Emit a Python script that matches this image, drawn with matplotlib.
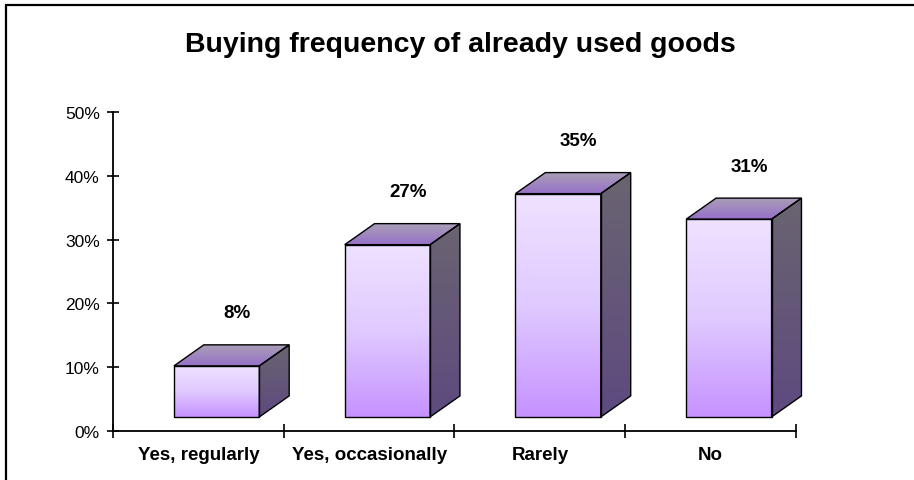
import numpy as np
import matplotlib
matplotlib.use("Agg")
import matplotlib.pyplot as plt
from matplotlib.patches import Polygon, Rectangle
from matplotlib.colors import LinearSegmentedColormap

plt.rcParams["font.family"] = ["Liberation Sans", "DejaVu Sans"]

categories = ["Yes, regularly", "Yes, occasionally", "Rarely", "No"]
shares = [8, 27, 35, 31]
yticks = [0, 10, 20, 30, 40, 50]
title = "Buying frequency of already used goods"

# 3d look of the bars, in data units
bar_left = 0.357    # front face start inside each category slot
bar_width = 0.50
lift = 2.2          # front face sits a little above the floor line
depth_x = 0.175
depth_y = 3.3

front_cmap = LinearSegmentedColormap.from_list(
    "front", [(0.0, "#c692ff"), (0.5, "#e0caff"), (1.0, "#efe2ff")])
top_cmap = LinearSegmentedColormap.from_list("top", ["#9670c8", "#aaa0b6"])
side_cmap = LinearSegmentedColormap.from_list("side", ["#5e4a80", "#6a6470"])

fig = plt.figure(figsize=(9.14, 4.81), dpi=100)
ax = fig.add_axes([0.1236, 0.1019, 0.7473, 0.6632])


def shaded(poly, cmap):
    patch = Polygon(poly, closed=True, facecolor="none", edgecolor="black",
                    linewidth=1.0, zorder=3, clip_on=False)
    ax.add_patch(patch)
    xs, ys = zip(*poly)
    grad = np.linspace(0, 1, 256).reshape(-1, 1)
    im = ax.imshow(grad, cmap=cmap, origin="lower", aspect="auto",
                   extent=(min(xs), max(xs), min(ys), max(ys)),
                   interpolation="bilinear", zorder=2)
    # let the shading run past the axes edge, trimmed to the face only
    im.set_clip_box(fig.bbox)
    im.set_clip_path(patch)


for i, v in enumerate(shares):
    x0 = i + bar_left
    x1 = x0 + bar_width
    y0 = lift
    y1 = lift + v
    front = [(x0, y0), (x1, y0), (x1, y1), (x0, y1)]
    top = [(x0, y1), (x1, y1), (x1 + depth_x, y1 + depth_y), (x0 + depth_x, y1 + depth_y)]
    side = [(x1, y0), (x1 + depth_x, y0 + depth_y), (x1 + depth_x, y1 + depth_y), (x1, y1)]
    shaded(front, front_cmap)
    shaded(top, top_cmap)
    shaded(side, side_cmap)
    ax.text(x0 + bar_width / 2 + 0.12, y1 + depth_y + 5.0, f"{v}%",
            ha="center", va="center", fontsize=13.5, fontweight="bold")

ax.set_xlim(0, len(categories))
ax.set_ylim(0, 50)
ax.set_yticks(yticks)
ax.set_yticklabels([f"{t}%" for t in yticks], fontsize=12.5)
ax.set_xticks(range(len(categories) + 1))
ax.set_xticklabels([])
ax.set_xticks(np.arange(len(categories)) + 0.5, minor=True)
ax.set_xticklabels(categories, minor=True, fontsize=13.5, fontweight="bold")
ax.tick_params(axis="x", which="major", direction="inout", length=10, width=1.2)
ax.tick_params(axis="x", which="minor", length=0, pad=11)
ax.tick_params(axis="y", direction="inout", length=9, width=1.2, pad=5)
for s in ["top", "right"]:
    ax.spines[s].set_visible(False)
for s in ["left", "bottom"]:
    ax.spines[s].set_linewidth(1.3)

fig.text(0.504, 1 - 45 / 481, title, ha="center", va="center",
         fontsize=20.5, fontweight="bold")

# chart frame
fig.patches.append(Rectangle((6 / 914, -0.2), 1.2, 1.2 - 6 / 481,
                             transform=fig.transFigure, fill=False,
                             edgecolor="black", linewidth=1.6))

fig.savefig("out.png", dpi=100)
